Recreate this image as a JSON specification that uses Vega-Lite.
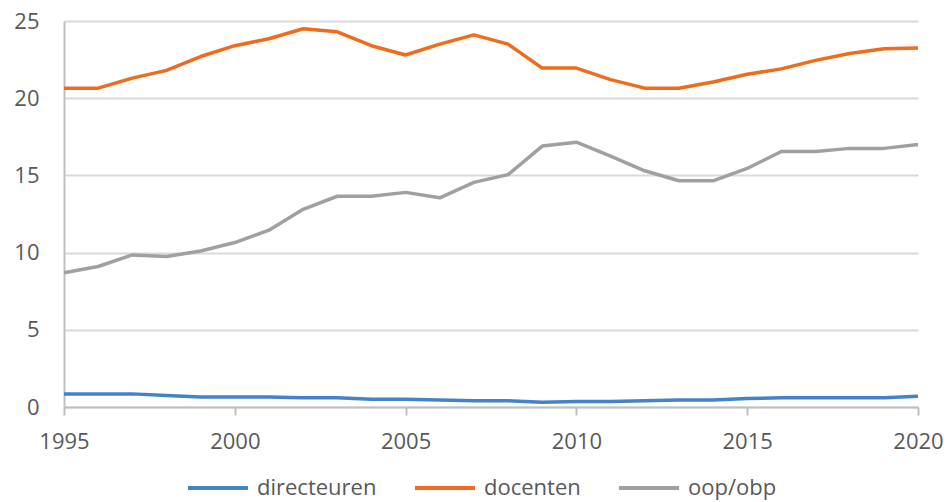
{
  "$schema": "https://vega.github.io/schema/vega-lite/v6.json",
  "width": 854,
  "height": 386,
  "autosize": "none",
  "padding": {"left": 64, "top": 21, "right": 32, "bottom": 95},
  "background": "white",
  "config": {
    "view": {"stroke": null},
    "font": "Open Sans",
    "axis": {"labelFont": "Open Sans", "labelColor": "#595959", "labelFontSize": 22, "domainColor": "#bfbfbf", "domainWidth": 2, "tickColor": "#bfbfbf", "tickWidth": 2, "gridColor": "#d9d9d9", "gridWidth": 2, "title": null},
    "legend": {"labelFont": "Open Sans", "labelColor": "#595959", "labelFontSize": 22, "layout": {"bottom": {"anchor": "middle"}}}
  },
  "data": {
    "values": [
      {"jaar": 1995, "groep": "directeuren", "waarde": 0.85},
      {"jaar": 1996, "groep": "directeuren", "waarde": 0.85},
      {"jaar": 1997, "groep": "directeuren", "waarde": 0.85},
      {"jaar": 1998, "groep": "directeuren", "waarde": 0.75},
      {"jaar": 1999, "groep": "directeuren", "waarde": 0.65},
      {"jaar": 2000, "groep": "directeuren", "waarde": 0.65},
      {"jaar": 2001, "groep": "directeuren", "waarde": 0.65},
      {"jaar": 2002, "groep": "directeuren", "waarde": 0.6},
      {"jaar": 2003, "groep": "directeuren", "waarde": 0.6},
      {"jaar": 2004, "groep": "directeuren", "waarde": 0.5},
      {"jaar": 2005, "groep": "directeuren", "waarde": 0.5},
      {"jaar": 2006, "groep": "directeuren", "waarde": 0.45},
      {"jaar": 2007, "groep": "directeuren", "waarde": 0.4},
      {"jaar": 2008, "groep": "directeuren", "waarde": 0.4},
      {"jaar": 2009, "groep": "directeuren", "waarde": 0.3},
      {"jaar": 2010, "groep": "directeuren", "waarde": 0.35},
      {"jaar": 2011, "groep": "directeuren", "waarde": 0.35},
      {"jaar": 2012, "groep": "directeuren", "waarde": 0.4},
      {"jaar": 2013, "groep": "directeuren", "waarde": 0.45},
      {"jaar": 2014, "groep": "directeuren", "waarde": 0.45},
      {"jaar": 2015, "groep": "directeuren", "waarde": 0.55},
      {"jaar": 2016, "groep": "directeuren", "waarde": 0.6},
      {"jaar": 2017, "groep": "directeuren", "waarde": 0.6},
      {"jaar": 2018, "groep": "directeuren", "waarde": 0.6},
      {"jaar": 2019, "groep": "directeuren", "waarde": 0.6},
      {"jaar": 2020, "groep": "directeuren", "waarde": 0.7},
      {"jaar": 1995, "groep": "docenten", "waarde": 20.65},
      {"jaar": 1996, "groep": "docenten", "waarde": 20.65},
      {"jaar": 1997, "groep": "docenten", "waarde": 21.3},
      {"jaar": 1998, "groep": "docenten", "waarde": 21.8},
      {"jaar": 1999, "groep": "docenten", "waarde": 22.7},
      {"jaar": 2000, "groep": "docenten", "waarde": 23.4},
      {"jaar": 2001, "groep": "docenten", "waarde": 23.85},
      {"jaar": 2002, "groep": "docenten", "waarde": 24.5},
      {"jaar": 2003, "groep": "docenten", "waarde": 24.3},
      {"jaar": 2004, "groep": "docenten", "waarde": 23.4},
      {"jaar": 2005, "groep": "docenten", "waarde": 22.8},
      {"jaar": 2006, "groep": "docenten", "waarde": 23.5},
      {"jaar": 2007, "groep": "docenten", "waarde": 24.1},
      {"jaar": 2008, "groep": "docenten", "waarde": 23.5},
      {"jaar": 2009, "groep": "docenten", "waarde": 21.95},
      {"jaar": 2010, "groep": "docenten", "waarde": 21.95},
      {"jaar": 2011, "groep": "docenten", "waarde": 21.2},
      {"jaar": 2012, "groep": "docenten", "waarde": 20.65},
      {"jaar": 2013, "groep": "docenten", "waarde": 20.65},
      {"jaar": 2014, "groep": "docenten", "waarde": 21.05},
      {"jaar": 2015, "groep": "docenten", "waarde": 21.55},
      {"jaar": 2016, "groep": "docenten", "waarde": 21.9},
      {"jaar": 2017, "groep": "docenten", "waarde": 22.45},
      {"jaar": 2018, "groep": "docenten", "waarde": 22.9},
      {"jaar": 2019, "groep": "docenten", "waarde": 23.2},
      {"jaar": 2020, "groep": "docenten", "waarde": 23.25},
      {"jaar": 1995, "groep": "oop/obp", "waarde": 8.7},
      {"jaar": 1996, "groep": "oop/obp", "waarde": 9.1},
      {"jaar": 1997, "groep": "oop/obp", "waarde": 9.85},
      {"jaar": 1998, "groep": "oop/obp", "waarde": 9.75},
      {"jaar": 1999, "groep": "oop/obp", "waarde": 10.1},
      {"jaar": 2000, "groep": "oop/obp", "waarde": 10.65},
      {"jaar": 2001, "groep": "oop/obp", "waarde": 11.45},
      {"jaar": 2002, "groep": "oop/obp", "waarde": 12.8},
      {"jaar": 2003, "groep": "oop/obp", "waarde": 13.65},
      {"jaar": 2004, "groep": "oop/obp", "waarde": 13.65},
      {"jaar": 2005, "groep": "oop/obp", "waarde": 13.9},
      {"jaar": 2006, "groep": "oop/obp", "waarde": 13.55},
      {"jaar": 2007, "groep": "oop/obp", "waarde": 14.55},
      {"jaar": 2008, "groep": "oop/obp", "waarde": 15.05},
      {"jaar": 2009, "groep": "oop/obp", "waarde": 16.9},
      {"jaar": 2010, "groep": "oop/obp", "waarde": 17.15},
      {"jaar": 2011, "groep": "oop/obp", "waarde": 16.25},
      {"jaar": 2012, "groep": "oop/obp", "waarde": 15.3},
      {"jaar": 2013, "groep": "oop/obp", "waarde": 14.65},
      {"jaar": 2014, "groep": "oop/obp", "waarde": 14.65},
      {"jaar": 2015, "groep": "oop/obp", "waarde": 15.45},
      {"jaar": 2016, "groep": "oop/obp", "waarde": 16.55},
      {"jaar": 2017, "groep": "oop/obp", "waarde": 16.55},
      {"jaar": 2018, "groep": "oop/obp", "waarde": 16.75},
      {"jaar": 2019, "groep": "oop/obp", "waarde": 16.75},
      {"jaar": 2020, "groep": "oop/obp", "waarde": 17.0}
    ]
  },
  "mark": {"type": "line", "strokeWidth": 3.5, "strokeJoin": "round"},
  "encoding": {
    "x": {
      "field": "jaar", "type": "quantitative",
      "scale": {"domain": [1995, 2020], "nice": false, "zero": false},
      "axis": {"values": [1995, 2000, 2005, 2010, 2015, 2020], "format": "d", "grid": false, "tickSize": 8, "labelPadding": 16, "labelFlush": false}
    },
    "y": {
      "field": "waarde", "type": "quantitative",
      "scale": {"domain": [0, 25], "nice": false},
      "axis": {"values": [0, 5, 10, 15, 20, 25], "ticks": false, "labelPadding": 25, "domain": true}
    },
    "color": {
      "field": "groep", "type": "nominal",
      "scale": {"domain": ["directeuren", "docenten", "oop/obp"], "range": ["#4383cc", "#ee6c1b", "#a0a0a0"]},
      "legend": {"orient": "bottom", "direction": "horizontal", "title": null, "symbolType": "M-3,0H3", "symbolSize": 400, "symbolStrokeWidth": 4, "symbolFillColor": "transparent", "columnPadding": 30, "labelOffset": 27, "offset": 24}
    }
  }
}
